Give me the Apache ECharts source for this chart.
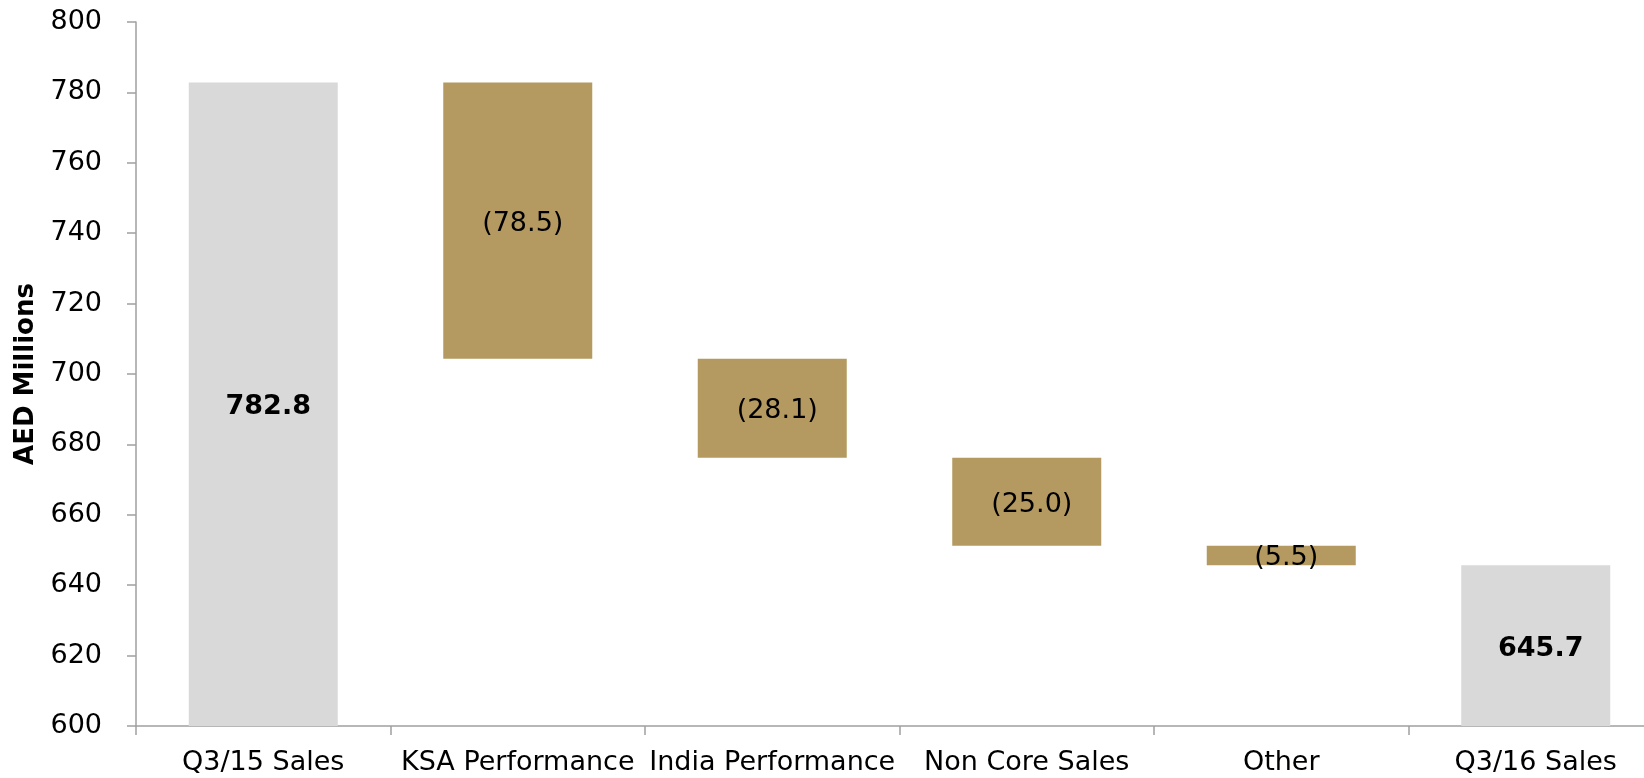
<!DOCTYPE html>
<html>
<head>
<meta charset="utf-8">
<title>Sales bridge Q3/15 to Q3/16</title>
<script src="https://cdn.jsdelivr.net/npm/echarts@6/dist/echarts.min.js"></script>
<style>
  html, body { margin: 0; padding: 0; background: #ffffff; }
  #chart { width: 1644px; height: 778px; }
</style>
</head>
<body>
<div id="chart"></div>
<script>
// Bridge categories and values (AED millions)
const categories = ['Q3/15 Sales', 'KSA Performance', 'India Performance', 'Non Core Sales', 'Other', 'Q3/16 Sales'];
const startTotal = 782.8;
const changes = [-78.5, -28.1, -25.0, -5.5];
const endTotal = 645.7;
const yTicks = { min: 600, max: 800, step: 20 };

const FONT = 'DejaVu Sans';
const TOTAL_COLOR = '#D9D9D9';
const CHANGE_COLOR = '#B49A60';
const AXIS_COLOR = '#A0A0A0';

// Build the invisible base and the visible segment for each step
const baseValues = [];
const segmentData = [];
baseValues.push(0);
segmentData.push({ value: startTotal, itemStyle: { color: TOTAL_COLOR }, kind: 'total', raw: startTotal });
let running = startTotal;
changes.forEach(function (c) {
  const next = running + c;
  baseValues.push(Math.min(running, next));
  segmentData.push({ value: Math.abs(c), itemStyle: { color: CHANGE_COLOR }, kind: 'change', raw: c });
  running = next;
});
baseValues.push(0);
segmentData.push({ value: endTotal, itemStyle: { color: TOTAL_COLOR }, kind: 'total', raw: endTotal });

function formatLabel(p) {
  const d = p.data;
  if (d.kind === 'total') return '{b|' + d.raw.toFixed(1) + '}';
  const v = Math.abs(d.raw).toFixed(1);
  return '{n|' + (d.raw < 0 ? '(' + v + ')' : v) + '}';
}

const chart = echarts.init(document.getElementById('chart'), null, { renderer: 'canvas' });
chart.setOption({
  animation: false,
  backgroundColor: '#ffffff',
  textStyle: { fontFamily: FONT },
  grid: { left: 136, top: 22, width: 1527, height: 704, outerBoundsMode: 'none', containLabel: false },
  xAxis: {
    type: 'category',
    data: categories,
    boundaryGap: true,
    axisLine: { show: true, lineStyle: { color: AXIS_COLOR, width: 1.5 } },
    axisTick: { show: true, alignWithLabel: false, length: 9, lineStyle: { color: AXIS_COLOR, width: 1.5 } },
    axisLabel: { interval: 0, margin: 23, color: '#000', fontFamily: FONT, fontSize: 27 },
    splitLine: { show: false }
  },
  yAxis: {
    type: 'value',
    min: yTicks.min,
    max: yTicks.max,
    interval: yTicks.step,
    name: 'AED Millions',
    nameLocation: 'middle',
    nameGap: 95,
    nameTextStyle: { color: '#000', fontFamily: FONT, fontSize: 26, fontWeight: 'bold' },
    axisLine: { show: true, lineStyle: { color: AXIS_COLOR, width: 1.5 } },
    axisTick: { show: true, length: 9, lineStyle: { color: AXIS_COLOR, width: 1.5 } },
    axisLabel: { margin: 34, color: '#000', fontFamily: FONT, fontSize: 27 },
    splitLine: { show: false }
  },
  series: [
    {
      name: 'base',
      type: 'bar',
      stack: 'bridge',
      barWidth: 149,
      itemStyle: { color: 'transparent' },
      emphasis: { disabled: true },
      data: baseValues,
      silent: true
    },
    {
      name: 'segment',
      type: 'bar',
      stack: 'bridge',
      barWidth: 149,
      data: segmentData,
      label: {
        show: true,
        position: 'inside',
        offset: [5, 3],
        formatter: formatLabel,
        rich: {
          b: { fontFamily: FONT, fontSize: 27, fontWeight: 'bold', color: '#000' },
          n: { fontFamily: FONT, fontSize: 27, color: '#000' }
        }
      }
    }
  ]
});
</script>
</body>
</html>
